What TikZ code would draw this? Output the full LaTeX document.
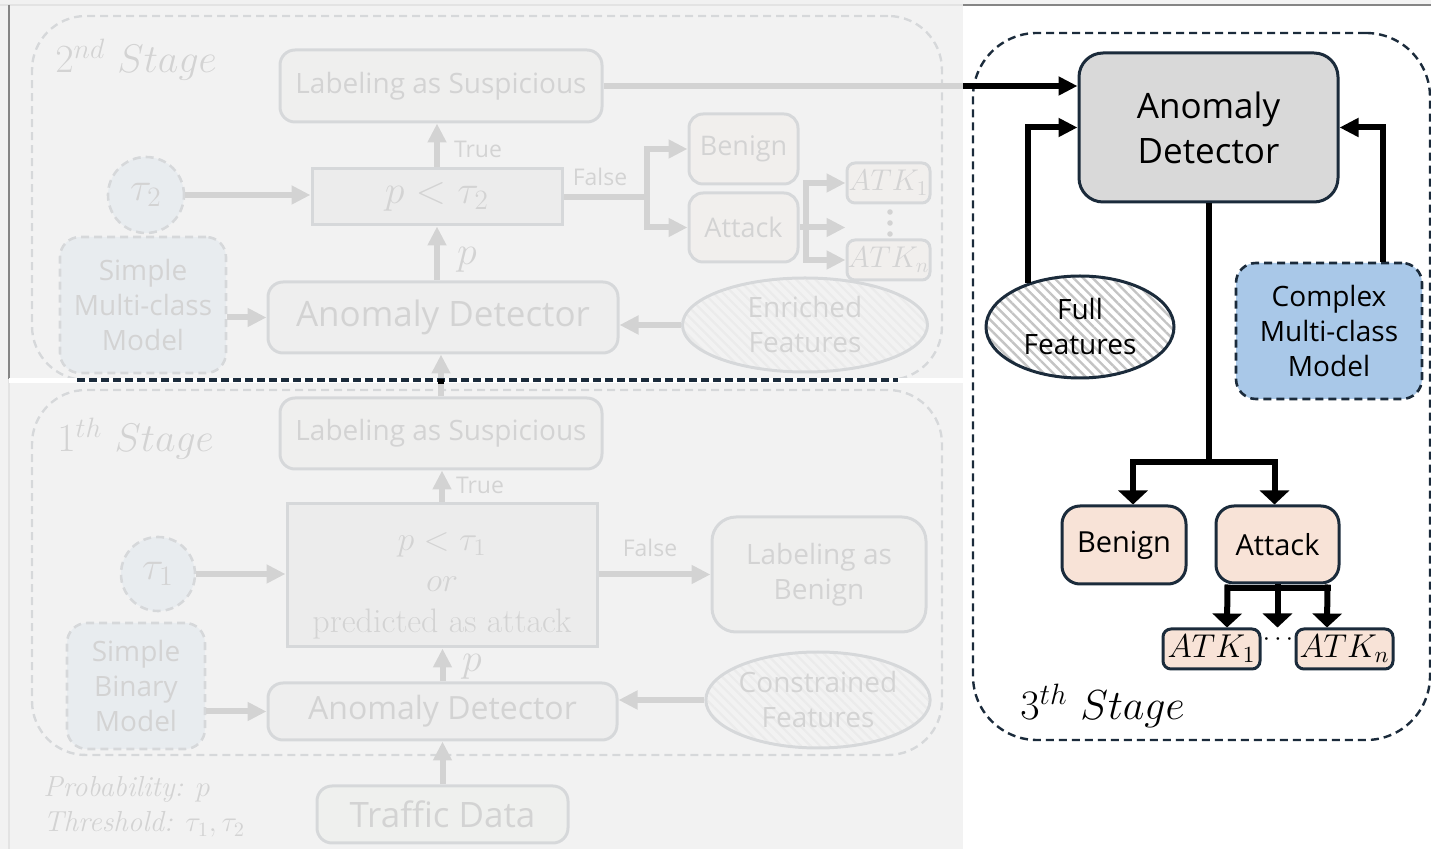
\RequirePackage{fix-cm}
\documentclass[tikz,border=0pt]{standalone}
\usepackage{fontspec}
\newfontfamily\sansf{Open Sans}
\usetikzlibrary{arrows.meta,shapes.geometric,patterns.meta,calc}

\definecolor{navy}{HTML}{1B2B3B}
\definecolor{adgray}{HTML}{D9D9D9}
\definecolor{condgray}{HTML}{D0D0D0}
\definecolor{labgray}{HTML}{E2E1DF}
\definecolor{peach}{HTML}{F8E3D7}
\definecolor{modelblue}{HTML}{A9C8E8}
\definecolor{tdgreen}{HTML}{E2EFD9}
\definecolor{hatchgray}{HTML}{C4C4C4}
\definecolor{veil}{HTML}{F1F1F1}
\definecolor{strip}{HTML}{F3F3F3}
\definecolor{rulegray}{HTML}{858585}

\tikzset{
  rbox/.style={draw=navy, line width=1.5pt, rounded corners=#1, align=center, inner sep=0pt},
  sbox/.style={draw=navy, line width=1.5pt, align=center, inner sep=0pt},
  dbox/.style={draw=navy, line width=1.3pt, dash pattern=on 4pt off 2.5pt, rounded corners=#1,
               fill=modelblue, align=center, inner sep=0pt},
  dcirc/.style={circle, draw=navy, line width=1.3pt, dash pattern=on 4pt off 2.5pt,
               fill=modelblue, inner sep=0pt},
  hatchell/.style={ellipse, draw=navy, line width=1.5pt, align=center, inner sep=0pt,
               preaction={fill=white},
               pattern={Lines[angle=-45,distance=3.4pt,line width=1.2pt]}, pattern color=hatchgray},
  stagebox/.style={draw=navy, line width=1.2pt, dash pattern=on 4pt off 2.5pt, rounded corners=#1,
               inner sep=0pt},
  conn/.style={line width=3pt, draw=black},
  arrH/.style={conn, -{Triangle[length=9.5pt,width=9pt]}},
  arrW/.style={conn, -{Triangle[length=7pt,width=14.5pt]}},
  sans14/.style={font=\sansf\fontsize{14}{17.5}\selectfont},
  bigsans/.style={font=\sansf\fontsize{17.5}{22.5}\selectfont},
  tinysans/.style={font=\sansf\fontsize{11.5}{13}\selectfont, inner sep=0pt},
  mathlbl/.style={font=\fontsize{20}{24}\selectfont, inner sep=0pt},
  atkfont/.style={font=\fontsize{#1}{18}\selectfont},
}

\begin{document}
\begin{tikzpicture}[x=0.5pt,y=-0.5pt]
\useasboundingbox (0,0) rectangle (1431,849);
\fill[white] (0,0) rectangle (1431,849);
\fill[strip] (0,0) rectangle (1431,5);
\draw[rulegray, line width=1pt] (0,5.5) -- (1431,5.5);
\draw[rulegray, line width=1pt] (9,5) -- (9,849);

% ---------------- 2nd stage ----------------
\node[stagebox=27pt, minimum width=455pt, minimum height=182pt] (st2) at (487,198) {};
\node[anchor=base west, mathlbl] (st2lbl) at (55,73) {$2^{nd}\ Stage$};

\node[rbox=7.5pt, fill=labgray, minimum width=161pt, minimum height=36pt, sans14] (lab2) at (441,86) {Labeling as Suspicious};
\node[sbox, fill=condgray, minimum width=125pt, minimum height=28pt, mathlbl] (ptau2) at (437,197) {$p<\tau_2$};
\node[dcirc, minimum size=38pt, mathlbl] (tau2) at (146,195) {$\tau_2$};
\node[dbox=10pt, minimum width=83pt, minimum height=68pt, sans14] (smm2) at (143,305) {Simple\\Multi-class\\Model};
\node[rbox=7.5pt, fill=adgray, minimum width=175pt, minimum height=35.5pt, bigsans] (ad2) at (443,317.5) {Anomaly Detector};
\node[hatchell, minimum width=122.5pt, minimum height=47pt, sans14] (ef2) at (805,325) {Enriched\\Features};
\node[rbox=7pt, fill=peach, minimum width=54.5pt, minimum height=35pt, font=\sansf\fontsize{13.5}{15}\selectfont] (ben2) at (743.5,149) {Benign};
\node[rbox=7pt, fill=peach, minimum width=54.5pt, minimum height=34.5pt, font=\sansf\fontsize{13.5}{15}\selectfont] (att2) at (743.5,227.5) {Attack};
\node[rbox=4pt, fill=peach, minimum width=41.5pt, minimum height=20pt, atkfont=15] (atk21) at (888.5,183) {$ATK_1$};
\node[rbox=4pt, fill=peach, minimum width=41.5pt, minimum height=20pt, atkfont=15] (atk2n) at (888.5,260) {$ATK_n$};
% vertical ellipsis between the two attack classes
\foreach \yy in {212,223,234} \fill (890,\yy) circle[radius=1.4pt];

\node[tinysans] (true2) at (478,149) {True};
\node[tinysans] (false2) at (600,177) {False};
\node[mathlbl] (p2) at (467,260) {$p$};

\draw[arrH] (ptau2.north) -- (ptau2.north |- lab2.south);
\draw[arrH] (ad2.north -| ptau2.north) -- (ptau2.south);
\draw[arrH] (tau2.east) -- (tau2.east -| ptau2.west);
\draw[arrH] (ad2.west -| smm2.east) -- (ad2.west);
\draw[arrH] (ef2.west) -- (ef2.west -| ad2.east);
\draw[conn] (ptau2.east) -- ++(83,0) coordinate (br2);
\draw[arrH] (br2) |- (ben2.west);
\draw[arrH] (br2) |- (att2.west);
\draw[conn] (att2.east) -- ++(6,0) coordinate (br2b);
\draw[arrH] (br2b) |- (atk21.west);
\draw[arrH] (br2b) |- (atk2n.west);
\draw[arrH] (br2b) -- (br2b -| atk21.west);

% ---------------- 1st stage ----------------
\node[stagebox=27pt, minimum width=455pt, minimum height=182.5pt] (st1) at (487,572.5) {};
\node[anchor=base west, mathlbl] (st1lbl) at (57,452) {$1^{th}\ Stage$};

\node[rbox=7.5pt, fill=labgray, minimum width=161pt, minimum height=35.5pt, sans14] (lab1) at (441,433.5) {Labeling as Suspicious};
\node[sbox, fill=condgray, minimum width=155pt, minimum height=71.5pt, font=\fontsize{17}{20.5}\selectfont] (big1) at (442,575.5)
  {\rule{0pt}{19pt}$p<\tau_1$\\$or$\\predicted as attack};
\node[dcirc, minimum size=37pt, mathlbl] (tau1) at (158,574) {$\tau_1$};
\node[dbox=10pt, minimum width=69pt, minimum height=63pt, sans14] (sbm1) at (136,686) {Simple\\Binary\\Model};
\node[rbox=7.5pt, fill=adgray, minimum width=174.5pt, minimum height=28.5pt, font=\sansf\fontsize{16}{20}\selectfont] (ad1) at (442.5,711.5) {Anomaly Detector};
\node[rbox=12pt, fill=labgray, minimum width=107pt, minimum height=57.5pt, sans14] (lb1) at (819,574.5) {Labeling as\\Benign};
\node[hatchell, minimum width=109pt, minimum height=48pt, sans14] (cf1) at (818,700) {Constrained\\Features};
\node[rbox=7.5pt, fill=tdgreen, minimum width=125.5pt, minimum height=28.5pt, bigsans] (td) at (442.5,814.5) {Traffic Data};

\node[tinysans] (true1) at (480,485) {True};
\node[tinysans] (false1) at (650,548) {False};
\node[mathlbl] (p1) at (472,667) {$p$};

\node[anchor=base west, font=\fontsize{14.5}{16}\selectfont, inner sep=0pt] (legp) at (43,797) {\textit{Probability:} $p$};
\node[anchor=base west, font=\fontsize{14.5}{16}\selectfont, inner sep=0pt] (legt) at (43,832) {\textit{Threshold:} $\tau_1,\tau_2$};

\draw[arrH] (big1.north) -- (big1.north |- lab1.south);
\draw[arrH] (ad1.north) -- (ad1.north |- big1.south);
\draw[arrH] (tau1.east) -- (tau1.east -| big1.west);
\draw[arrH] (ad1.west -| sbm1.east) -- (ad1.west);
\draw[arrH] (cf1.west) -- (cf1.west -| ad1.east);
\draw[arrH] (big1.east |- lb1.west) -- (lb1.west);
\draw[arrH] (td.north) -- (td.north |- ad1.south);
\draw[arrH] (lab1.north) -- (lab1.north |- ad2.south);

% ---------------- 3rd stage ----------------
\node[stagebox=32pt, minimum width=228.5pt, minimum height=353.5pt] (st3) at (1201.5,386.5) {};
\node[anchor=base west, font=\fontsize{21}{24}\selectfont, inner sep=0pt] (st3lbl) at (1020,720) {$3^{th}\ Stage$};

\node[rbox=12pt, fill=adgray, minimum width=129.5pt, minimum height=74.5pt, bigsans] (ad3) at (1208.5,127.5) {Anomaly\\Detector};
\node[hatchell, minimum width=94pt, minimum height=51pt, sans14] (full3) at (1080,327) {Full\\Features};
\node[dbox=10pt, minimum width=93pt, minimum height=68pt, sans14] (cmm3) at (1329,331) {Complex\\Multi-class\\Model};
\node[rbox=9pt, fill=peach, minimum width=62pt, minimum height=39pt, font=\sansf\fontsize{14.5}{17}\selectfont] (ben3) at (1124,545) {Benign};
\node[rbox=9pt, fill=peach, minimum width=61.5pt, minimum height=38.5pt, font=\sansf\fontsize{14.5}{17}\selectfont] (att3) at (1277.5,544.5) {Attack};
\node[rbox=4pt, fill=peach, minimum width=48.5pt, minimum height=20pt, atkfont=16.5] (atk31) at (1211.5,649) {$ATK_1$};
\node[rbox=4pt, fill=peach, minimum width=48.5pt, minimum height=20pt, atkfont=16.5] (atk3n) at (1344.5,649) {$ATK_n$};
\node[font=\fontsize{13}{16}\selectfont, inner sep=0pt] (hd3) at (1278,640) {$\cdots$};

% suspicious flows of stage 2 enter the detector of stage 3
\draw[arrH] (lab2.east) -- (lab2.east -| ad3.west);
\draw[arrH] (full3.140) |- (ad3.west);
\draw[arrH] ($(cmm3.north)+(54,0)$) |- (ad3.east);
\draw[conn] (ad3.south) -- (ad3.south |- 0,462) coordinate (j3);
\draw[arrW] (j3) -| ($(ben3.north)+(9,0)$);
\draw[arrW] (j3) -| ($(att3.north)+(-3,0)$);
\draw[conn, line cap=rect] ($(att3.south)+(-50,4)$) -- ($(att3.south)+(50,4)$);
\draw[arrW] ($(att3.south)+(-50,0)$) -- ($(atk31.north)+(15.5,0)$);
\draw[arrW] (att3.south) -- (att3.south |- atk31.north);
\draw[arrW] ($(att3.south)+(50,0)$) -- ($(atk3n.north)+(-17.5,0)$);

% ---------------- dimmed earlier stages ----------------
\fill[veil, opacity=0.88] (0,0) rectangle (963,849);
\draw[rulegray, line width=1pt] (9,5) -- (9,379);
\fill[white] (9,378.5) rectangle (963,383);
\draw[navy, line width=1.7pt, dash pattern=on 4pt off 2pt] (77,380) -- (898,380);
\draw[line width=3pt] (lab1.north |- st2.south) ++(0,-2) -- ++(0,5);
\end{tikzpicture}
\end{document}
